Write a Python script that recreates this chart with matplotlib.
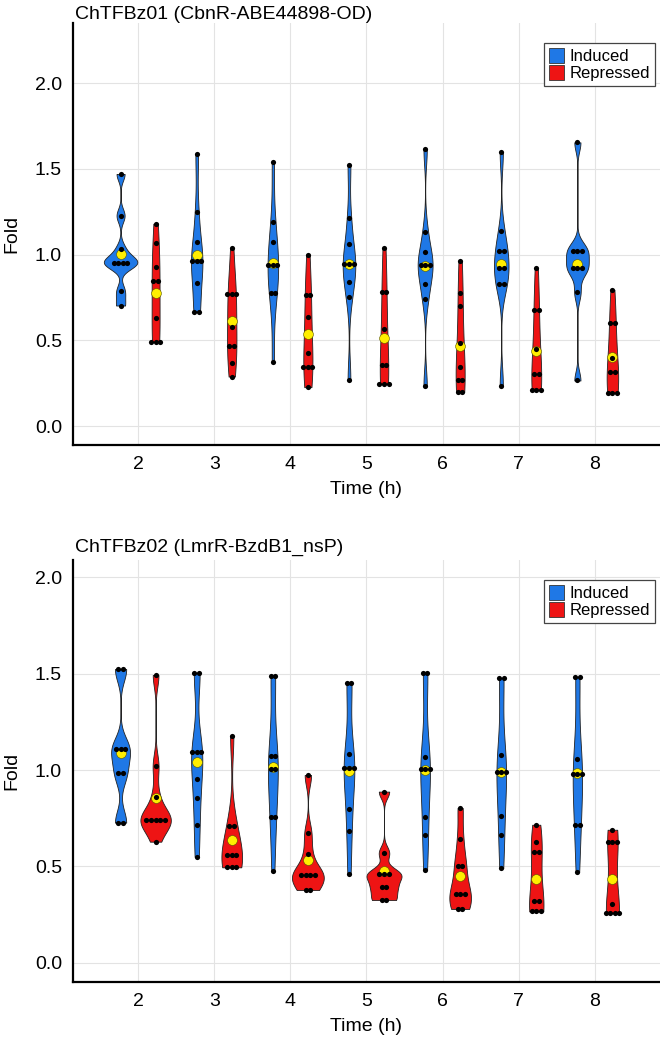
import numpy as np
import matplotlib
matplotlib.use("Agg")
import matplotlib.pyplot as plt
from matplotlib.patches import Patch

plt.rcParams['font.family'] = ['Liberation Sans', 'DejaVu Sans']

times = [2, 3, 4, 5, 6, 7, 8]

# panel 1: ChTFBz01 (CbnR-ABE44898-OD)
top_induced = [
    [1.47, 1.227, 1.03, 0.953, 0.953, 0.953, 0.953, 0.785, 0.703],
    [1.584, 1.248, 1.076, 0.961, 0.961, 0.961, 0.836, 0.668, 0.668],
    [1.537, 1.188, 1.072, 0.938, 0.938, 0.938, 0.775, 0.775, 0.375],
    [1.523, 1.211, 1.064, 0.947, 0.947, 0.947, 0.84, 0.754, 0.266],
    [1.617, 1.133, 1.014, 0.938, 0.938, 0.938, 0.828, 0.742, 0.232],
    [1.596, 1.137, 1.021, 1.021, 0.92, 0.92, 0.826, 0.826, 0.236],
    [1.654, 1.021, 1.021, 1.021, 0.92, 0.92, 0.92, 0.779, 0.266],
]
top_repressed = [
    [1.18, 1.068, 0.926, 0.844, 0.844, 0.633, 0.49, 0.49, 0.49],
    [1.037, 0.77, 0.77, 0.77, 0.578, 0.469, 0.469, 0.369, 0.289],
    [1.0, 0.762, 0.762, 0.637, 0.426, 0.344, 0.344, 0.344, 0.227],
    [1.039, 0.783, 0.783, 0.564, 0.354, 0.354, 0.246, 0.246, 0.246],
    [0.965, 0.777, 0.699, 0.484, 0.344, 0.271, 0.271, 0.199, 0.199],
    [0.922, 0.678, 0.678, 0.447, 0.305, 0.305, 0.209, 0.209, 0.209],
    [0.795, 0.602, 0.602, 0.398, 0.314, 0.314, 0.195, 0.195, 0.195],
]

# panel 2: ChTFBz02 (LmrR-BzdB1_nsP)
bot_induced = [
    [1.524, 1.524, 1.107, 1.107, 1.107, 0.983, 0.983, 0.727, 0.727],
    [1.505, 1.505, 1.095, 1.095, 1.095, 0.955, 0.856, 0.716, 0.55],
    [1.488, 1.488, 1.073, 1.073, 1.003, 1.003, 0.758, 0.758, 0.476],
    [1.45, 1.45, 1.081, 1.009, 1.009, 1.009, 0.8, 0.685, 0.462],
    [1.503, 1.503, 1.067, 1.003, 1.003, 1.003, 0.754, 0.661, 0.481],
    [1.478, 1.478, 1.078, 0.99, 0.99, 0.99, 0.761, 0.663, 0.491],
    [1.484, 1.484, 1.059, 0.981, 0.981, 0.981, 0.716, 0.716, 0.471],
]
bot_repressed = [
    [1.493, 1.022, 0.862, 0.74, 0.74, 0.74, 0.74, 0.74, 0.628],
    [1.178, 0.708, 0.708, 0.557, 0.557, 0.557, 0.495, 0.495, 0.495],
    [0.974, 0.673, 0.564, 0.455, 0.455, 0.455, 0.455, 0.377, 0.377],
    [0.888, 0.569, 0.458, 0.458, 0.458, 0.391, 0.391, 0.325, 0.325],
    [0.803, 0.64, 0.502, 0.502, 0.355, 0.355, 0.355, 0.279, 0.279],
    [0.716, 0.625, 0.576, 0.576, 0.32, 0.32, 0.266, 0.266, 0.266],
    [0.69, 0.626, 0.626, 0.626, 0.304, 0.256, 0.256, 0.256, 0.256],
]

titles = ["ChTFBz01 (CbnR-ABE44898-OD)", "ChTFBz02 (LmrR-BzdB1_nsP)"]
title_pads = [3, 6]
ylims = [(-0.11, 2.35), (-0.10, 2.09)]
max_half = [0.22, 0.23]

BLUE = '#1f78e6'
RED = '#ee1414'


def kde(vals):
    v = np.asarray(vals, dtype=float)
    n = len(v)
    q1, q3 = np.percentile(v, [25, 75])
    s = min(np.std(v, ddof=1), (q3 - q1) / 1.34)
    if s <= 0:
        s = np.std(v, ddof=1)
    bw = 1.06 * s * n ** (-0.2)
    ys = np.linspace(v.min(), v.max(), 300)
    d = np.exp(-0.5 * ((ys[:, None] - v[None, :]) / bw) ** 2).sum(axis=1)
    d /= n * bw * np.sqrt(2 * np.pi)
    return ys, d


def swarm_x(vals, xc, step=0.06):
    xs, ys = [], []
    u, c = np.unique(np.round(vals, 4), return_counts=True)
    for val, k in zip(u, c):
        for j in range(k):
            xs.append(xc + (j - (k - 1) / 2) * step)
            ys.append(val)
    return xs, ys


fig = plt.figure(figsize=(6.6, 10.39), dpi=100)
ax_top = fig.add_axes([0.1106, 0.5717, 0.8894, 0.4062])
ax_bot = fig.add_axes([0.1106, 0.0549, 0.8894, 0.4061])

panels = [(ax_top, top_induced, top_repressed), (ax_bot, bot_induced, bot_repressed)]

for p, (ax, ind, rep) in enumerate(panels):
    groups = []
    for i, t in enumerate(times):
        groups.append((t - 0.23, ind[i], BLUE))
        groups.append((t + 0.23, rep[i], RED))
    dens = [kde(g[1]) for g in groups]
    scale = max_half[p] / max(d.max() for _, d in dens)

    for (xc, vals, col), (ys, d) in zip(groups, dens):
        w = d * scale
        ax.fill_betweenx(ys, xc - w, xc + w, facecolor=col,
                         edgecolor='#222222', linewidth=0.6, zorder=2)
        ax.scatter([xc], [np.mean(vals)], s=50, color='#ffee00',
                   edgecolor='#555500', linewidth=0.4, zorder=3)
        sx, sy = swarm_x(vals, xc)
        ax.scatter(sx, sy, s=14, color='black', linewidth=0, zorder=4)

    ax.set_xlim(1.145, 8.855)
    ax.set_ylim(*ylims[p])
    ax.set_xticks(times)
    ax.set_yticks([0.0, 0.5, 1.0, 1.5, 2.0])
    ax.set_yticklabels(['0.0', '0.5', '1.0', '1.5', '2.0'])
    ax.tick_params(length=0, labelsize=14, pad=8)
    ax.grid(True, color='#e3e3e3', linewidth=0.8)
    ax.set_axisbelow(True)
    for side in ['top', 'right']:
        ax.spines[side].set_visible(False)
    for side in ['left', 'bottom']:
        ax.spines[side].set_linewidth(1.6)
    ax.set_xlabel('Time (h)', fontsize=14, labelpad=6)
    ax.set_ylabel('Fold', fontsize=14, labelpad=10)
    ax.set_title(titles[p], loc='left', fontsize=14, pad=title_pads[p], x=0.003)

    handles = [Patch(facecolor=BLUE, edgecolor='#333333', linewidth=0.6, label='Induced'),
               Patch(facecolor=RED, edgecolor='#333333', linewidth=0.6, label='Repressed')]
    leg = ax.legend(handles=handles, loc='upper right', bbox_to_anchor=(0.992, 0.953),
                    fontsize=12, fancybox=False, framealpha=1, edgecolor='#444444',
                    handlelength=0.9, handleheight=1.0, handletextpad=0.35,
                    labelspacing=0.05, borderpad=0.3, borderaxespad=0)
    leg.get_frame().set_linewidth(0.9)

fig.savefig('out.png', dpi=100)
